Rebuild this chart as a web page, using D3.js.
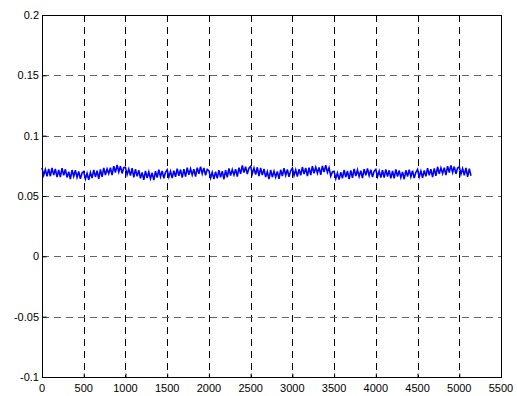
<!DOCTYPE html>
<html lang="en">
<head>
    <meta charset="utf-8">
    <title>signal</title>
    <script type="text/javascript" src="https://cdn.jsdelivr.net/npm/d3@7"></script>
    <style>
        body { margin: 0; background: #fff; }
        text { font-family: "Liberation Sans", Arial, sans-serif; font-size: 11px; fill: #000; }
    </style>
</head>
<body>
    <svg width="517" height="396"></svg>
    <script>
        // tick labels
        var xTicks = [0, 500, 1000, 1500, 2000, 2500, 3000, 3500, 4000, 4500, 5000, 5500];
        var yTicks = [-0.1, -0.05, 0, 0.05, 0.1, 0.15, 0.2];
        // samples every 20 points (0 .. 5140)
        var sampleStep = 20;
        var values = [
            0.0733, 0.0672, 0.0719, 0.0664, 0.0725,  0.0664, 0.0732, 0.0673, 0.0724, 0.0657,
            0.0717, 0.0656, 0.0730, 0.0671, 0.0721,  0.0654, 0.0702, 0.0641, 0.0715, 0.0663,
            0.0713, 0.0654, 0.0703, 0.0642, 0.0691,  0.0703, 0.0642, 0.0689, 0.0634, 0.0695,
            0.0649, 0.0717, 0.0658, 0.0709, 0.0642,  0.0720, 0.0659, 0.0733, 0.0674, 0.0724,
            0.0686, 0.0734, 0.0673, 0.0747, 0.0695,  0.0758, 0.0699, 0.0748, 0.0687, 0.0736,
            0.0738, 0.0677, 0.0724, 0.0669, 0.0730,  0.0654, 0.0722, 0.0663, 0.0714, 0.0647,
            0.0695, 0.0634, 0.0708, 0.0649, 0.0699,  0.0644, 0.0692, 0.0631, 0.0705, 0.0653,
            0.0718, 0.0659, 0.0708, 0.0647, 0.0696,  0.0718, 0.0657, 0.0704, 0.0649, 0.0710,
            0.0659, 0.0727, 0.0668, 0.0719, 0.0652,  0.0722, 0.0661, 0.0735, 0.0676, 0.0726,
            0.0674, 0.0722, 0.0661, 0.0735, 0.0683,  0.0743, 0.0684, 0.0733, 0.0672, 0.0721,
            0.0710, 0.0649, 0.0696, 0.0641, 0.0702,  0.0646, 0.0714, 0.0655, 0.0706, 0.0639,
            0.0715, 0.0654, 0.0728, 0.0669, 0.0719,  0.0674, 0.0722, 0.0661, 0.0735, 0.0683,
            0.0753, 0.0694, 0.0743, 0.0682, 0.0731,  0.0746, 0.0685, 0.0732, 0.0677, 0.0738,
            0.0664, 0.0732, 0.0673, 0.0724, 0.0657,  0.0702, 0.0641, 0.0715, 0.0656, 0.0706,
            0.0656, 0.0704, 0.0643, 0.0717, 0.0665,  0.0730, 0.0671, 0.0720, 0.0659, 0.0708,
            0.0731, 0.0670, 0.0717, 0.0662, 0.0723,  0.0672, 0.0740, 0.0681, 0.0732, 0.0665,
            0.0735, 0.0674, 0.0748, 0.0689, 0.0739,  0.0689, 0.0737, 0.0676, 0.0750, 0.0698,
            0.0755, 0.0696, 0.0735, 0.0665, 0.0700,  0.0705, 0.0644, 0.0691, 0.0636, 0.0697,
            0.0647, 0.0715, 0.0656, 0.0707, 0.0640,  0.0712, 0.0651, 0.0725, 0.0666, 0.0716,
            0.0662, 0.0710, 0.0649, 0.0723, 0.0671,  0.0728, 0.0669, 0.0718, 0.0657, 0.0706,
            0.0721, 0.0660, 0.0707, 0.0652, 0.0713,  0.0653, 0.0721, 0.0662, 0.0713, 0.0646,
            0.0708, 0.0647, 0.0721, 0.0662, 0.0712,  0.0652, 0.0700, 0.0639, 0.0713, 0.0661,
            0.0719, 0.0660, 0.0709, 0.0648, 0.0697,  0.0720, 0.0659, 0.0706, 0.0651, 0.0712,
            0.0663, 0.0731, 0.0672, 0.0723, 0.0656,  0.0729, 0.0668, 0.0742, 0.0683, 0.0733,
            0.0686, 0.0734, 0.0673, 0.0747, 0.0695,  0.0754, 0.0695, 0.0744, 0.0683, 0.0732,
            0.0741, 0.0680, 0.0727, 0.0672, 0.0733,  0.0659, 0.0727, 0.0668
        ];

        var svg = d3.select("svg");
        var padL = 42, padR = 501, padT = 15, padB = 377;

        var x = d3.scaleLinear().domain([0, 5500]).range([padL, padR]);
        var y = d3.scaleLinear().domain([-0.1, 0.2]).range([padB, padT]);

        svg.append("rect").attr("width", 517).attr("height", 396).attr("fill", "#fff");

        // grid
        svg.append("g").selectAll("line")
            .data(xTicks.slice(1, -1))
            .enter()
            .append("line")
            .attr("x1", function (d) { return Math.round(x(d)) + 0.5; })
            .attr("x2", function (d) { return Math.round(x(d)) + 0.5; })
            .attr("y1", padT)
            .attr("y2", padB)
            .attr("stroke", "#000")
            .attr("stroke-dasharray", "7,5");
        svg.append("g").selectAll("line")
            .data(yTicks.slice(1, -1))
            .enter()
            .append("line")
            .attr("x1", padL)
            .attr("x2", padR)
            .attr("y1", function (d) { return Math.round(y(d)) + 0.5; })
            .attr("y2", function (d) { return Math.round(y(d)) + 0.5; })
            .attr("stroke", "#666")
            .attr("stroke-dasharray", "7,5");

        // signal
        var line = d3.line()
            .x(function (d, i) { return x(i * sampleStep); })
            .y(function (d) { return y(d); });
        svg.append("path")
            .datum(values)
            .attr("d", line)
            .attr("fill", "none")
            .attr("stroke", "#0000ff")
            .attr("stroke-width", 1.6);

        // box
        svg.append("rect")
            .attr("x", padL + 0.5).attr("y", padT + 0.5)
            .attr("width", padR - padL).attr("height", padB - padT)
            .attr("fill", "none").attr("stroke", "#000");

        // axes (inward ticks)
        var xAxis = d3.axisTop(x).tickValues(xTicks).tickSize(4).tickFormat("");
        svg.append("g").attr("transform", "translate(0," + (padB + 0.5) + ")").call(xAxis)
            .select(".domain").remove();
        var yAxis = d3.axisRight(y).tickValues(yTicks).tickSize(4).tickFormat("");
        svg.append("g").attr("transform", "translate(" + (padL + 0.5) + ",0)").call(yAxis)
            .select(".domain").remove();

        // tick labels
        svg.append("g").selectAll("text")
            .data(xTicks)
            .enter()
            .append("text")
            .attr("x", function (d) { return x(d); })
            .attr("y", padB + 15)
            .attr("text-anchor", "middle")
            .text(function (d) { return d; });
        svg.append("g").selectAll("text")
            .data(yTicks)
            .enter()
            .append("text")
            .attr("x", padL - 3)
            .attr("y", function (d) { return y(d) + 4; })
            .attr("text-anchor", "end")
            .text(function (d) { return d; });
    </script>
</body>
</html>
